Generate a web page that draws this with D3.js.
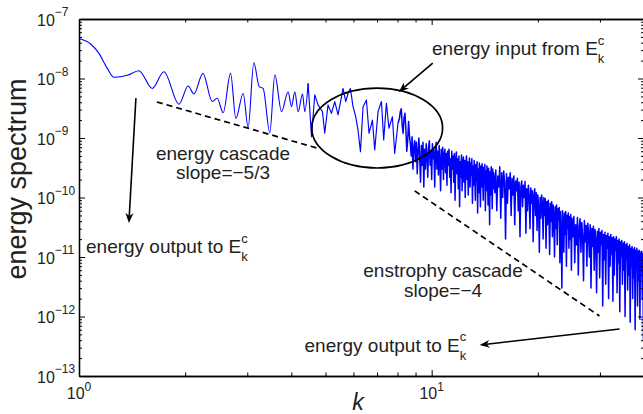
<!DOCTYPE html>
<html>
<head>
<meta charset="utf-8">
<script src="https://cdn.jsdelivr.net/npm/d3@7"></script>
<style>
  body { margin: 0; background: #fff; }
  svg { display: block; font-family: "Liberation Sans", Arial, Helvetica, sans-serif; }
</style>
</head>
<body>
<div id="chart"></div>
<script>
// spectrum: [k, energy]
// smooth low-k part
var spectrumLow = [
  [1.000, 4.7e-8], [1.079, 3.8e-8], [1.139, 2.65e-8], [1.203, 1.48e-8], [1.256, 1.05e-8],
  [1.370, 1.13e-8], [1.479, 1.35e-8], [1.613, 6.8e-9], [1.741, 1.3e-8], [1.920, 3.7e-9],
  [2.040, 7.5e-9], [2.118, 5.5e-9], [2.246, 1.22e-8], [2.386, 4.1e-9], [2.465, 4.65e-9],
  [2.564, 2.66e-9], [2.690, 1.22e-8], [2.785, 2.14e-9], [2.921, 5.6e-9], [3.017, 1.5e-9],
  [3.131, 1.84e-8], [3.243, 7.3e-9], [3.327, 6.8e-9], [3.476, 1.23e-9], [3.592, 1.15e-8],
  [3.752, 2.77e-9], [3.917, 6.0e-9], [4.005, 3.36e-9], [4.092, 6.0e-9], [4.181, 2.77e-9],
  [4.303, 5.5e-9], [4.368, 2.77e-9], [4.463, 8.3e-9]
];

// spiky part inside the ellipse
var spectrumMid = [
  [4.563, 1.05e-9], [4.661, 5.3e-9], [4.762, 3.6e-9], [4.901, 2.77e-9], [4.975, 1.2e-9],
  [5.083, 3.6e-9], [5.197, 2.6e-9], [5.312, 4.1e-9], [5.427, 2.44e-9], [5.607, 6.8e-9],
  [5.706, 4.1e-9], [5.792, 5.6e-9], [5.883, 6.8e-9], [5.984, 3.36e-9], [6.090, 2.28e-9],
  [6.182, 1.36e-9], [6.281, 5.9e-10], [6.389, 3.36e-9], [6.531, 4.35e-9], [6.643, 1.2e-9],
  [6.792, 2.0e-9], [6.895, 6.3e-10], [7.046, 2.77e-9], [7.203, 4.1e-9], [7.311, 9.3e-10],
  [7.441, 3.83e-9], [7.568, 1.46e-9], [7.738, 2.28e-9], [7.855, 5.5e-10], [8.026, 1.77e-9]
];

// dense noisy high-k part
var spectrumDense = [
  [8.10, 2.1e-9], [8.15, 2.8e-9], [8.20, 3.1e-9], [8.25, 1.6e-9], [8.30, 1.2e-9], [8.35, 2.2e-9],
  [8.40, 2.6e-9], [8.45, 1.4e-9], [8.50, 6e-10], [8.55, 9e-10], [8.60, 1.9e-9], [8.65, 1.1e-9],
  [8.70, 8e-10], [8.75, 5e-10], [8.80, 1.05e-9], [8.85, 3e-10], [8.90, 7e-10], [8.95, 9e-10],
  [9.00, 4e-10], [9.05, 8.5e-10], [9.10, 2.5e-10], [9.15, 6e-10], [9.20, 1e-9], [9.25, 4.5e-10],
  [9.30, 1.8e-10], [9.35, 7.5e-10], [9.40, 3.5e-10], [9.45, 8.5e-10], [9.50, 1.5e-10], [9.55, 6.5e-10],
  [9.60, 3e-10], [9.65, 8e-10], [9.70, 5e-10], [9.75, 2.2e-10], [9.80, 7e-10], [9.85, 9e-10],
  [9.90, 3.5e-10], [9.95, 6e-10], [10.00, 2e-10], [10.05, 8e-10], [10.10, 4.5e-10], [10.15, 6.5e-10],
  [10.20, 1.5e-10], [10.25, 5.5e-10], [10.30, 8.5e-10], [10.35, 3e-10], [10.40, 6e-10], [10.45, 2.4e-10],
  [10.50, 7.5e-10], [10.55, 4e-10], [10.60, 1.3e-10], [10.65, 6.5e-10], [10.70, 3e-10], [10.75, 7e-10],
  [10.80, 2e-10], [10.85, 5e-10], [10.90, 6.5e-10], [10.95, 2.6e-10], [11.00, 5.5e-10], [11.05, 1.6e-10],
  [11.10, 6e-10], [11.15, 3.5e-10], [11.20, 6.5e-10], [11.25, 2.2e-10], [11.30, 4.5e-10], [11.35, 1.2e-10],
  [11.40, 6e-10], [11.45, 3e-10], [11.50, 5e-10], [11.55, 1.8e-10], [11.60, 5.5e-10], [11.65, 9e-11],
  [11.70, 4e-10], [11.75, 5.8e-10], [11.80, 2.5e-10], [11.85, 4.5e-10], [11.90, 1.4e-10], [11.95, 5e-10],
  [12.00, 7e-11], [12.05, 4e-10], [12.10, 2.2e-10], [12.15, 5.2e-10], [12.20, 1.3e-10], [12.25, 3.8e-10],
  [12.30, 4.8e-10], [12.35, 1.8e-10], [12.40, 4.2e-10], [12.45, 1e-10], [12.50, 3.5e-10], [12.55, 5e-10],
  [12.60, 2e-10], [12.65, 4e-10], [12.70, 1.1e-10], [12.75, 3.2e-10], [12.80, 4.6e-10], [12.85, 1.5e-10],
  [12.90, 3.8e-10], [12.95, 2.4e-10], [13.00, 4.5e-10], [13.05, 8e-11], [13.10, 3.4e-10], [13.15, 1.6e-10],
  [13.20, 4.2e-10], [13.25, 2.6e-10], [13.30, 9e-11], [13.35, 3.6e-10], [13.40, 1.9e-10], [13.45, 4e-10],
  [13.50, 5.5e-11], [13.55, 3e-10], [13.60, 1.2e-10], [13.65, 3.8e-10], [13.70, 2e-10], [13.75, 7e-11],
  [13.80, 3.4e-10], [13.85, 1.5e-10], [13.90, 3.7e-10], [13.95, 2.4e-10], [14.00, 9e-11], [14.05, 3.2e-10],
  [14.10, 1.7e-10], [14.15, 3.6e-10], [14.20, 6e-11], [14.25, 2.8e-10], [14.30, 1.3e-10], [14.35, 3.4e-10],
  [14.40, 2.2e-10], [14.45, 7.5e-11], [14.50, 3.1e-10], [14.55, 1.6e-10], [14.60, 3.5e-11], [14.65, 2.7e-10],
  [14.70, 1.1e-10], [14.75, 3.3e-10], [14.80, 2e-10], [14.85, 6.5e-11], [14.90, 3e-10], [14.95, 1.4e-10],
  [15.00, 2.6e-10],
  [15.1, 1.2e-10], [15.2, 2.9e-10], [15.3, 6e-11], [15.4, 2.3e-10], [15.5, 1.5e-10], [15.6, 3.3e-10],
  [15.7, 4.5e-11], [15.8, 2.6e-10], [15.9, 1e-10], [16.0, 2.8e-10], [16.1, 1.8e-10], [16.2, 2e-11],
  [16.3, 2.5e-10], [16.4, 8e-11], [16.5, 2.2e-10], [16.6, 1.4e-10], [16.7, 2.6e-10], [16.8, 5e-11],
  [16.9, 2.1e-10], [17.0, 1.1e-10], [17.1, 2.3e-10], [17.2, 3.5e-11], [17.3, 1.9e-10], [17.4, 1.3e-10],
  [17.5, 2.1e-10], [17.6, 6e-11], [17.7, 1.8e-10], [17.8, 2.2e-11], [17.9, 1.5e-10], [18.0, 1.9e-10],
  [18.1, 7e-11], [18.2, 1.6e-10], [18.3, 1e-10], [18.4, 1.85e-10], [18.5, 2.5e-11], [18.6, 1.4e-10],
  [18.7, 6e-11], [18.8, 1.6e-10], [18.9, 1.1e-10], [19.0, 3e-11], [19.1, 1.45e-10], [19.2, 8e-11],
  [19.3, 1.3e-10], [19.4, 1.8e-11], [19.5, 1.1e-10], [19.6, 1.4e-10], [19.7, 5e-11], [19.8, 1.2e-10],
  [19.9, 2.8e-11], [20.0, 1.1e-10], [20.1, 7e-11], [20.2, 1.2e-11], [20.3, 1e-10], [20.4, 4.5e-11],
  [20.5, 1.1e-10], [20.6, 8e-11], [20.7, 2e-11], [20.8, 1e-10], [20.9, 5e-11], [21.0, 9.5e-11],
  [21.1, 1.4e-11], [21.2, 8.5e-11], [21.3, 3.5e-11], [21.4, 9e-11], [21.5, 6e-11], [21.6, 1.1e-11],
  [21.7, 8e-11], [21.8, 4e-11], [21.9, 8.5e-11], [22.0, 2.2e-11], [22.1, 7.5e-11], [22.2, 5e-11],
  [22.3, 1e-11], [22.4, 7e-11], [22.5, 3e-11], [22.6, 7.5e-11], [22.7, 1.6e-11], [22.8, 6.5e-11],
  [22.9, 4.2e-11], [23.0, 6.8e-11], [23.1, 8e-12], [23.2, 5.8e-11], [23.3, 2.5e-11], [23.4, 3e-12],
  [23.5, 6e-11], [23.6, 3.8e-11], [23.7, 1.2e-11], [23.8, 5.5e-11], [23.9, 2.4e-11], [24.0, 5.8e-11],
  [24.1, 7e-12], [24.2, 5e-11], [24.3, 3e-11], [24.4, 5.5e-11], [24.5, 1.4e-11], [24.6, 4.8e-11],
  [24.7, 2e-11], [24.8, 5.2e-11], [24.9, 6e-12], [25.0, 4.5e-11],
  [25.15, 2.2e-11], [25.30, 4.8e-11], [25.45, 8e-12], [25.60, 3.5e-11], [25.75, 1.6e-11], [25.90, 4.6e-11],
  [26.05, 5e-12], [26.20, 3.2e-11], [26.35, 4.4e-11], [26.50, 1.2e-11], [26.65, 3.8e-11], [26.80, 2.2e-11],
  [26.95, 4e-12], [27.10, 4.1e-11], [27.25, 1.8e-11], [27.40, 3.4e-11], [27.55, 7e-12], [27.70, 3.7e-11],
  [27.85, 2.6e-11], [28.00, 1e-11], [28.15, 3.5e-11], [28.30, 3e-12], [28.45, 3e-11], [28.60, 1.5e-11],
  [28.75, 3.3e-11], [28.90, 6e-12], [29.05, 2.9e-11], [29.20, 2e-11], [29.35, 2.5e-12], [29.50, 2.7e-11],
  [29.65, 1.2e-11], [29.80, 3e-11], [29.95, 4.5e-12], [30.10, 2.6e-11], [30.25, 1.6e-11], [30.40, 2.8e-11],
  [30.55, 1.5e-12], [30.70, 2.4e-11], [30.85, 9e-12], [31.00, 2.6e-11], [31.15, 3.5e-12], [31.30, 2.3e-11],
  [31.45, 1.4e-11], [31.60, 2.5e-11], [31.75, 2e-12], [31.90, 2.2e-11], [32.05, 7e-12], [32.20, 2.4e-11],
  [32.35, 1.1e-11], [32.50, 2.1e-11], [32.65, 1.8e-12], [32.80, 2.2e-11], [32.95, 5e-12], [33.10, 2e-11],
  [33.25, 1.3e-11], [33.40, 2.2e-11], [33.55, 2.5e-12], [33.70, 1.9e-11], [33.85, 8e-12], [34.00, 2e-11],
  [34.15, 1.2e-12], [34.30, 1.8e-11], [34.45, 1e-11], [34.60, 1.9e-11], [34.75, 3.5e-12], [34.90, 1.7e-11],
  [35.05, 6e-12], [35.20, 1.8e-11], [35.35, 1e-12], [35.50, 1.6e-11], [35.65, 9e-12], [35.80, 1.7e-11],
  [35.95, 2.8e-12], [36.10, 1.5e-11], [36.25, 5e-12], [36.40, 1.6e-11], [36.55, 8e-13], [36.70, 1.4e-11],
  [36.85, 7e-12], [37.00, 1.5e-11], [37.15, 2e-12], [37.30, 1.35e-11], [37.45, 4.5e-12], [37.60, 1.45e-11],
  [37.75, 6e-13], [37.90, 1.3e-11], [38.05, 8e-12], [38.20, 1.4e-11], [38.35, 1.5e-12], [38.50, 1.25e-11],
  [38.65, 4e-12], [38.80, 1.3e-11], [38.95, 9e-13], [39.10, 1.2e-11], [39.25, 6e-12], [39.40, 1.25e-11],
  [39.55, 2e-12], [39.70, 1.15e-11], [39.85, 4e-13], [40.00, 1.1e-11]
];

// axis ticks
var yDecades = [1e-13, 1e-12, 1e-11, 1e-10, 1e-9, 1e-8, 1e-7];
var yExpLabels = ["\u221213", "\u221212", "\u221211", "\u221210", "\u22129", "\u22128", "\u22127"];
var xDecades = [1, 10];
var xExpLabels = ["0", "1"];

// reference slopes and annotation shapes, in data units
var cascadeSlope = [[1.663, 4.03e-9], [4.72, 6.8e-10]];       // -5/3
var enstrophySlope = [[8.95, 1.29e-10], [29.9, 1.02e-12]];    // -4
var inputEllipse = {k: [4.57, 10.74], e: [6.9e-9, 3.13e-10]};
var arrowInput = [[10.07, 1.82e-8], [8.07, 5.93e-9]];
var arrowOutLow = [[1.45, 4.7e-9], [1.385, 3.72e-11]];
var arrowOutHigh = [[34.1, 6.17e-13], [13.68, 3.32e-13]];

var margin = {top: 19, right: 0, bottom: 38, left: 79},
    width = 565,
    height = 357;

var svg = d3.select("#chart")
    .append("svg")
    .attr("width", 643)
    .attr("height", 414);

var g = svg.append("g")
    .attr("transform", "translate(" + margin.left + "," + margin.top + ")");

var x = d3.scaleLog().domain([1, 40]).range([0, width]);
var y = d3.scaleLog().domain([1e-13, 1e-7]).range([height, 0]);

g.append("clipPath").attr("id", "plot-clip")
    .append("rect").attr("width", width).attr("height", height);

// spectrum: smooth part drawn as a curve, the rest straight segments
var lineSmooth = d3.line()
    .x(function (d) { return x(d[0]); })
    .y(function (d) { return y(d[1]); })
    .curve(d3.curveMonotoneX);
var lineRough = d3.line()
    .x(function (d) { return x(d[0]); })
    .y(function (d) { return y(d[1]); });

var specG = g.append("g").attr("clip-path", "url(#plot-clip)");
specG.append("path")
    .datum(spectrumLow)
    .attr("d", lineSmooth)
    .attr("fill", "none")
    .attr("stroke", "#0000ff")
    .attr("stroke-width", 1.1);
specG.append("path")
    .datum(spectrumLow.slice(-1).concat(spectrumMid))
    .attr("d", lineRough)
    .attr("fill", "none")
    .attr("stroke", "#0000ff")
    .attr("stroke-width", 1.15)
    .attr("stroke-linejoin", "round");
specG.append("path")
    .datum(spectrumMid.slice(-1).concat(spectrumDense))
    .attr("d", lineRough)
    .attr("fill", "none")
    .attr("stroke", "#0000ff")
    .attr("stroke-width", 1.5)
    .attr("stroke-linejoin", "round");

// dashed slope lines
[cascadeSlope, enstrophySlope].forEach(function (s) {
    g.append("line")
        .attr("x1", x(s[0][0])).attr("y1", y(s[0][1]))
        .attr("x2", x(s[1][0])).attr("y2", y(s[1][1]))
        .attr("stroke", "#000")
        .attr("stroke-width", 1.7)
        .attr("stroke-dasharray", "6,4");
});

// ellipse round the input range
var ex0 = x(inputEllipse.k[0]), ex1 = x(inputEllipse.k[1]),
    ey0 = y(inputEllipse.e[0]), ey1 = y(inputEllipse.e[1]);
g.append("ellipse")
    .attr("cx", (ex0 + ex1) / 2).attr("cy", (ey0 + ey1) / 2)
    .attr("rx", (ex1 - ex0) / 2).attr("ry", (ey1 - ey0) / 2)
    .attr("fill", "none")
    .attr("stroke", "#000")
    .attr("stroke-width", 1.7);

// arrows
function drawArrow(a) {
    var x1 = x(a[0][0]), y1 = y(a[0][1]), x2 = x(a[1][0]), y2 = y(a[1][1]);
    var ang = Math.atan2(y2 - y1, x2 - x1), c = Math.cos(ang), s = Math.sin(ang);
    var L = 10, W = 4;
    var bx = x2 - L * c, by = y2 - L * s;
    var nx = x2 - 0.7 * L * c, ny = y2 - 0.7 * L * s;
    g.append("line")
        .attr("x1", x1).attr("y1", y1).attr("x2", nx).attr("y2", ny)
        .attr("stroke", "#000").attr("stroke-width", 1.6);
    g.append("path")
        .attr("d", "M" + x2 + "," + y2 +
            "L" + (bx - W * s) + "," + (by + W * c) +
            "L" + nx + "," + ny +
            "L" + (bx + W * s) + "," + (by - W * c) + "Z")
        .attr("fill", "#000");
}
drawArrow(arrowInput);
drawArrow(arrowOutLow);
drawArrow(arrowOutHigh);

// annotation text
var textColor = "#222";
function ekcLabel(px, py, str) {
    var t = svg.append("text")
        .attr("x", px).attr("y", py)
        .attr("font-size", 19)
        .attr("fill", textColor);
    t.append("tspan").text(str);
    t.append("tspan").attr("dy", -10.5).attr("font-size", 13).text("c");
    t.append("tspan").attr("dx", -6.5).attr("dy", 18.5).attr("font-size", 13).text("k");
}
ekcLabel(432, 55, "energy input from E");
ekcLabel(86, 253, "energy output to E");
ekcLabel(304.5, 351.5, "energy output to E");

function twoLines(cx, y1, a, b) {
    svg.append("text").attr("x", cx).attr("y", y1)
        .attr("font-size", 19).attr("fill", textColor)
        .style("text-anchor", "middle").text(a);
    svg.append("text").attr("x", cx).attr("y", y1 + 19.5)
        .attr("font-size", 19).attr("fill", textColor)
        .style("text-anchor", "middle").text(b);
}
twoLines(223, 159.5, "energy cascade", "slope=\u22125/3");
twoLines(443, 277, "enstrophy cascade", "slope=\u22124");

// axes, ticks inside on all four sides
function isDecade(v) {
    var l = Math.log10(v);
    return Math.abs(l - Math.round(l)) < 1e-6;
}
var yMinor = y.ticks().filter(function (v) { return !isDecade(v); });
var xMinor = x.ticks().filter(function (v) { return !isDecade(v); });

function addAxis(axis, transform) {
    var a = g.append("g").attr("transform", transform || null).call(axis);
    a.select(".domain").attr("stroke", "#000").attr("stroke-width", 1.3);
    a.selectAll(".tick line").attr("stroke", "#000").attr("stroke-width", 1);
    return a;
}
addAxis(d3.axisLeft(y).tickValues(yDecades).tickSize(-6).tickSizeOuter(0).tickFormat(""));
addAxis(d3.axisLeft(y).tickValues(yMinor).tickSize(-3).tickSizeOuter(0).tickFormat(""));
addAxis(d3.axisRight(y).tickValues(yDecades).tickSize(-6).tickSizeOuter(0).tickFormat(""), "translate(" + width + ",0)");
addAxis(d3.axisRight(y).tickValues(yMinor).tickSize(-3).tickSizeOuter(0).tickFormat(""), "translate(" + width + ",0)");
addAxis(d3.axisBottom(x).tickValues(xDecades).tickSize(-6).tickSizeOuter(0).tickFormat(""), "translate(0," + height + ")");
addAxis(d3.axisBottom(x).tickValues(xMinor).tickSize(-3.5).tickSizeOuter(0).tickFormat(""), "translate(0," + height + ")");
addAxis(d3.axisTop(x).tickValues(xDecades).tickSize(-6).tickSizeOuter(0).tickFormat(""));
addAxis(d3.axisTop(x).tickValues(xMinor).tickSize(-3.5).tickSizeOuter(0).tickFormat(""));

// tick labels as 10 with a raised exponent
yDecades.forEach(function (v, i) {
    var t = g.append("text")
        .attr("x", -42).attr("y", y(v) + 6.5)
        .attr("font-size", 16).attr("fill", textColor);
    t.append("tspan").text("10");
    t.append("tspan").attr("dy", -9.4).attr("font-size", 12).text(yExpLabels[i]);
});
xDecades.forEach(function (v, i) {
    var t = g.append("text")
        .attr("x", x(v)).attr("y", height + 22.5)
        .attr("font-size", 16).attr("fill", textColor)
        .style("text-anchor", "middle");
    t.append("tspan").text("10");
    t.append("tspan").attr("dy", -8).attr("font-size", 12).text(xExpLabels[i]);
});

// axis titles
svg.append("text")
    .attr("x", 358).attr("y", 410)
    .attr("font-size", 23).attr("font-style", "italic")
    .attr("fill", textColor)
    .style("text-anchor", "middle")
    .text("k");

svg.append("text")
    .attr("transform", "rotate(-90)")
    .attr("x", -179).attr("y", 26)
    .attr("font-size", 27).attr("fill", textColor)
    .style("text-anchor", "middle")
    .text("energy spectrum");
</script>
</body>
</html>
